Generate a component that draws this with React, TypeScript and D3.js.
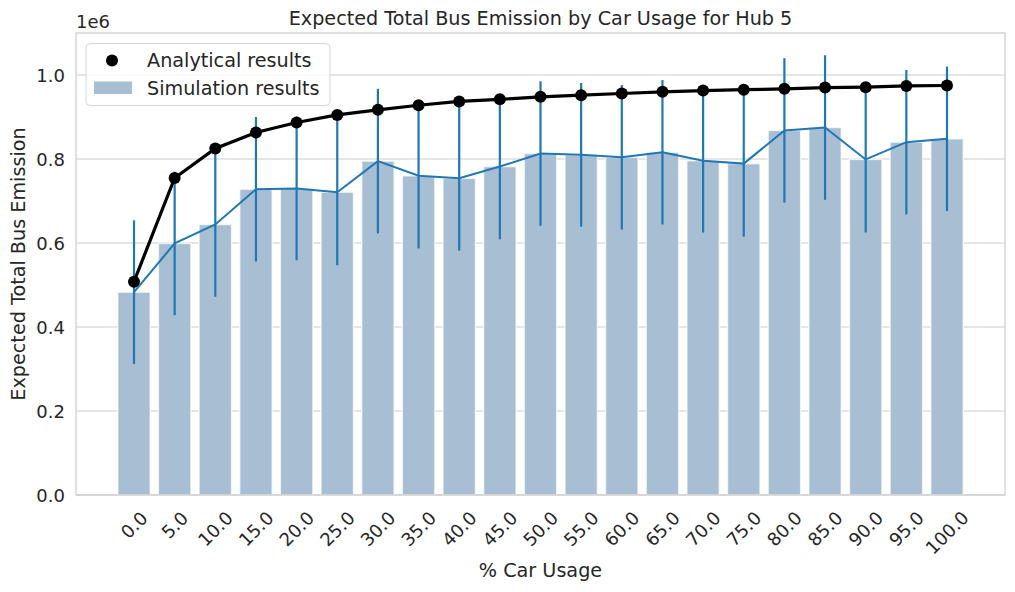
import React from "react";
import * as d3 from "d3";

const carUsage = ["0.0","5.0","10.0","15.0","20.0","25.0","30.0","35.0","40.0","45.0","50.0","55.0","60.0","65.0","70.0","75.0","80.0","85.0","90.0","95.0","100.0"];
const simulationMean = [0.483,0.599,0.644,0.728,0.730,0.721,0.795,0.760,0.754,0.782,0.813,0.810,0.804,0.816,0.796,0.789,0.868,0.875,0.799,0.840,0.848];
const simulationStd = [0.171,0.171,0.172,0.172,0.171,0.174,0.172,0.173,0.172,0.173,0.172,0.171,0.172,0.172,0.171,0.174,0.172,0.172,0.174,0.172,0.172];
const analytical = [0.508,0.755,0.825,0.863,0.887,0.905,0.917,0.928,0.937,0.942,0.948,0.952,0.956,0.960,0.963,0.965,0.967,0.970,0.971,0.974,0.975];
const yTicks = [0, 0.2, 0.4, 0.6, 0.8, 1.0];

const W = 1015, H = 592;
const M = { left: 76, right: 1005, top: 33, bottom: 495 };
const FONT = "DejaVu Sans, sans-serif";
const TXT = "#262626";
const TICK = 18;
const LBL = 19.2;

export default function App() {
  const n = carUsage.length;
  const x = d3.scaleLinear().domain([-1.427, n - 1 + 1.427]).range([M.left, M.right]);
  const y = d3.scaleLinear().domain([0, 1.1]).range([M.bottom, M.top]);
  const bw = (x(1) - x(0)) * 0.8;
  const meanLine = d3.line<number>().x((_, i) => x(i)).y((d) => y(d))(simulationMean) || "";
  const anaLine = d3.line<number>().x((_, i) => x(i)).y((d) => y(d))(analytical) || "";

  return (
    <svg width={W} height={H} style={{ position: "absolute", left: 0, top: 0, background: "#fff" }} fontFamily={FONT}>
      <rect x={0} y={0} width={W} height={H} fill="#fff" />
      {yTicks.map((t) => (
        <g key={t}>
          <line x1={M.left} x2={M.right} y1={y(t)} y2={y(t)} stroke="#cccccc" strokeWidth={1} />
          <text x={M.left - 11} y={y(t)} textAnchor="end" dominantBaseline="central" fontSize={TICK} fill={TXT}>
            {t.toFixed(1)}
          </text>
        </g>
      ))}
      <text x={M.left} y={28} fontSize={TICK} fill={TXT}>1e6</text>
      {simulationMean.map((v, i) => (
        <rect key={i} x={x(i) - bw / 2} y={y(v)} width={bw} height={y(0) - y(v)} fill="#a8bed2" stroke="#ffffff" strokeOpacity={0.7} strokeWidth={1.5} />
      ))}
      <path d={meanLine} fill="none" stroke="#1f77b4" strokeWidth={2} />
      {simulationMean.map((v, i) => (
        <line key={i} x1={x(i)} x2={x(i)} y1={y(v - simulationStd[i])} y2={y(v + simulationStd[i])} stroke="#1f77b4" strokeWidth={2.2} />
      ))}
      <path d={anaLine} fill="none" stroke="#000" strokeWidth={3.2} />
      {analytical.map((v, i) => (
        <circle key={i} cx={x(i)} cy={y(v)} r={6} fill="#000" />
      ))}
      <rect x={M.left} y={M.top} width={M.right - M.left} height={M.bottom - M.top} fill="none" stroke="#cccccc" strokeWidth={1.2} />
      {carUsage.map((c, i) => (
        <text key={c} transform={`translate(${x(i)},${M.bottom + 30 + (c.length - 3) * 3.8}) rotate(-45)`} textAnchor="middle" dominantBaseline="central" fontSize={TICK} fill={TXT}>
          {c}
        </text>
      ))}
      <text x={(M.left + M.right) / 2} y={577} textAnchor="middle" fontSize={LBL} fill={TXT}>% Car Usage</text>
      <text transform={`translate(25,${(M.top + M.bottom) / 2}) rotate(-90)`} textAnchor="middle" fontSize={LBL} fill={TXT}>Expected Total Bus Emission</text>
      <text x={(M.left + M.right) / 2} y={25} textAnchor="middle" fontSize={LBL} fill={TXT}>Expected Total Bus Emission by Car Usage for Hub 5</text>
      <g>
        <rect x={86} y={43.5} width={244} height={62} rx={4} fill="#fff" fillOpacity={0.8} stroke="#d6d6d6" strokeWidth={1} />
        <circle cx={112} cy={60.5} r={6} fill="#000" />
        <rect x={94} y={81.5} width={38} height={12.5} fill="#a8bed2" />
        <text x={147} y={60.5} dominantBaseline="central" fontSize={LBL} fill={TXT}>Analytical results</text>
        <text x={147} y={88} dominantBaseline="central" fontSize={LBL} fill={TXT}>Simulation results</text>
      </g>
    </svg>
  );
}
